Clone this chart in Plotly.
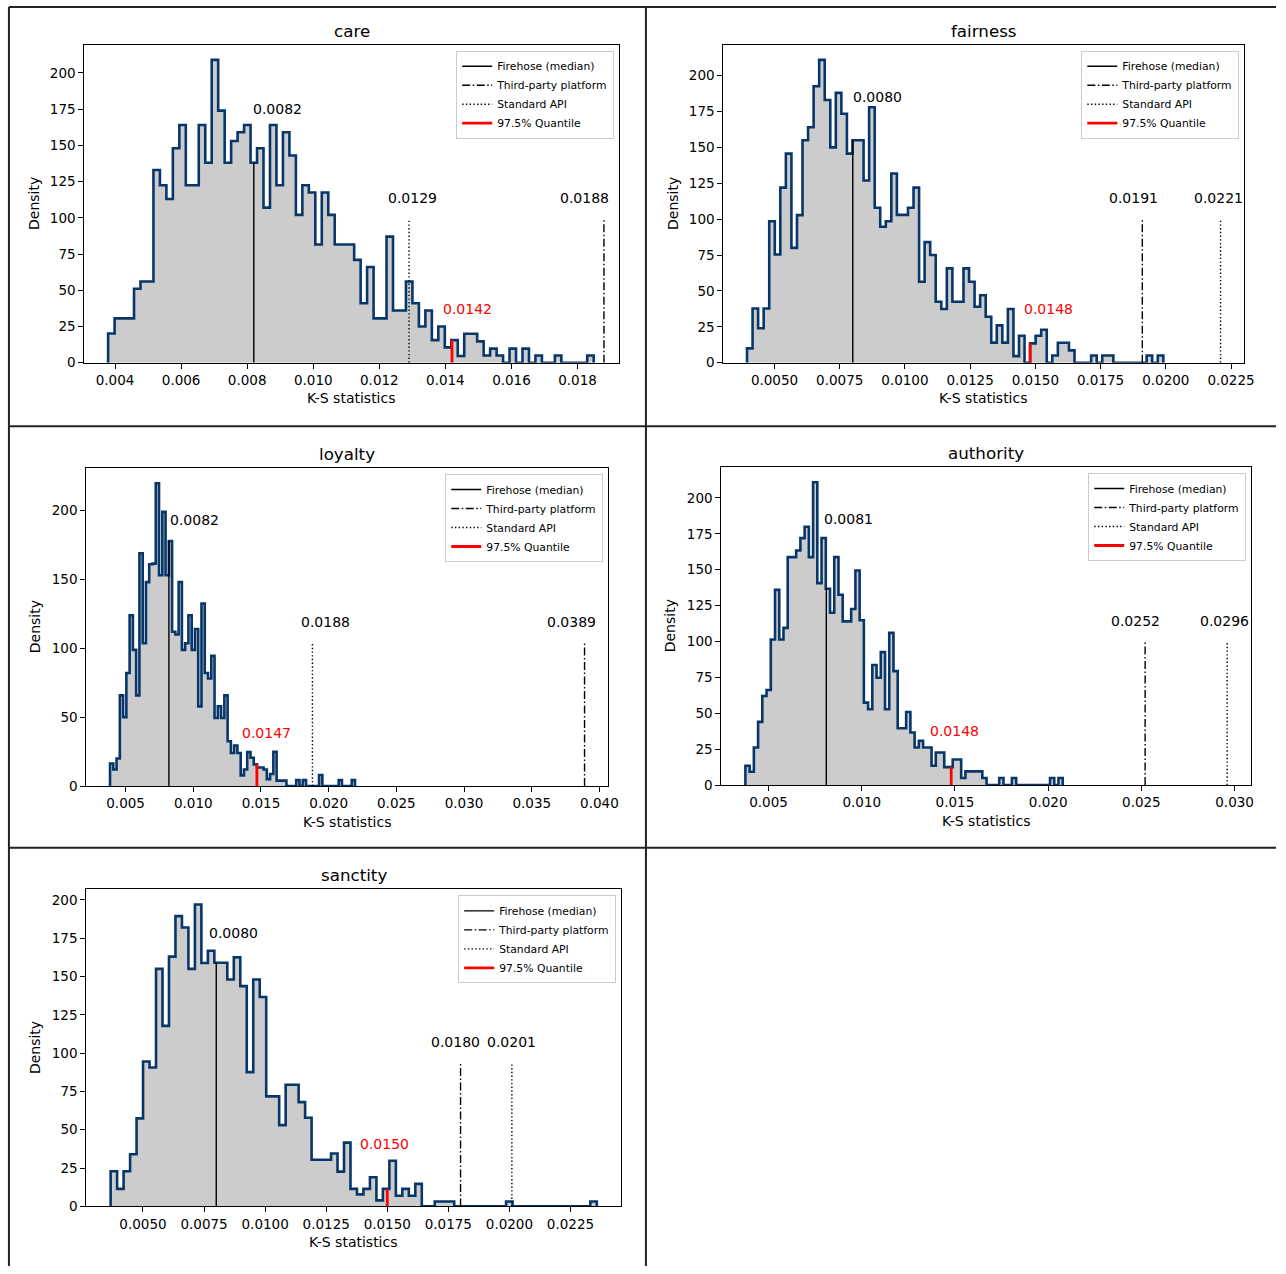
import numpy as np
import plotly.graph_objects as go

W, H = 1286, 1274

# ---------------- data ----------------
panel_names = ["care", "fairness", "loyalty", "authority", "sanctity"]

care_heights = [20.2, 30.6, 30.6, 30.6, 51, 56, 56, 133, 122.5, 113,
                148, 164, 122.5, 122.5, 164, 138, 209, 174, 138, 153,
                159, 164, 138, 148, 107, 164, 122.5, 159, 143, 102,
                122.5, 117.5, 81.6, 117.5, 102, 81.6, 81.6, 81.6, 71, 41,
                66, 30.6, 30.6, 87, 36, 36, 56, 41, 25, 36,
                15.6, 25, 10.6, 15.6, 4.6, 20, 20, 14.7, 5, 9.7,
                5, 0, 9.7, 0, 9.7, 0, 5, 0, 0, 5,
                0, 0, 0, 0, 5]
fairness_heights = [10, 37.8, 24, 37.8, 98.6, 75.4, 122, 145.7, 80, 102.8,
                    155, 164, 192.6, 211, 183, 150, 188, 173.5, 145.7, 155,
                    155, 127, 178, 108, 94.7, 98.6, 131.8, 103, 103, 108,
                    122, 56.4, 84, 75, 42.5, 37.4, 65.7, 42.5, 42.5, 65.7,
                    56.4, 39, 47, 32, 14, 26, 14, 37.4, 4.6, 18.8,
                    0, 13.5, 18.8, 23, 0, 5, 13.9, 13.9, 8.6, 0,
                    0, 0, 5, 0, 5, 5, 0, 0, 0, 0,
                    0, 0, 5, 0, 5]
loyalty_heights = [16.4, 12, 20, 65.8, 50, 82, 124, 98.8, 65.8, 169,
                   103.6, 148, 161, 161.4, 219.8, 153, 199, 153, 177.8, 112,
                   110, 148, 98.8, 103.6, 124, 98.8, 114, 57.8, 132.5, 82,
                   78, 94.5, 49.4, 57.8, 49.4, 65.8, 32.5, 24, 29.4, 24,
                   7.7, 12, 24.6, 20.5, 15.7, 13.5, 13.5, 12, 5, 8.7,
                   24.8, 3.9, 3.9, 3.9, 0, 0, 0, 4.3, 0, 4.3,
                   0, 0, 0, 0, 8, 0, 0, 0, 0, 0,
                   4.3, 0, 0, 0, 4.3]
authority_heights = [13.4, 9.3, 26.2, 44, 62, 66.2, 101.4, 136, 101.4, 109.5,
                     158.8, 158.8, 163.4, 172, 180, 158.8, 211, 140.7, 172, 136.8,
                     120, 158.8, 132.6, 114, 114, 122.7, 149.5, 114.8, 57.4, 52.8,
                     83.6, 74.8, 92.6, 52.8, 106, 79.4, 39.6, 39.6, 50.9, 36.6,
                     26.2, 30.8, 26.2, 26.2, 13.4, 22.7, 22.7, 12.5, 12.5, 17.8,
                     17.8, 4.9, 9.5, 9.5, 9.5, 9.5, 4.9, 0, 0, 0,
                     4.9, 0, 0, 4.9, 0, 0, 0, 0, 0, 0,
                     0, 0, 4.9, 0, 4.9]
sanctity_heights = [22.9, 11.4, 22.9, 34, 57.4, 94.5, 90.6, 155, 117.8, 163,
                    189.4, 182, 155, 197, 158.8, 166.8, 159, 159, 148, 162.5,
                    143.7, 87.6, 148, 136.6, 71.8, 71.8, 53, 79.4, 79.4, 68,
                    57.8, 30.4, 30.4, 30.4, 34.5, 22.7, 41.6, 11.4, 7.8, 11.4,
                    19, 3.9, 11.4, 29.8, 6.9, 11.4, 6.9, 14.7, 0, 0,
                    3.2, 3.2, 3.2, 0, 0, 0, 0, 0, 0, 0,
                    0, 3.2, 0, 0, 0, 0, 0, 0, 0, 0,
                    0, 0, 0, 0, 3.2]

# histogram bin range (first edge, last edge) of each panel
care_bins = (0.00379, 0.01849)
fairness_bins = (0.003946, 0.019905)
loyalty_bins = (0.003851, 0.021946)
authority_bins = (0.00376, 0.02078)
sanctity_bins = (0.003676, 0.023578)

# statistics drawn as vertical lines
median_vals = [0.0082, 0.0080, 0.0082, 0.0081, 0.0080]
third_party_vals = [0.0188, 0.0191, 0.0389, 0.0252, 0.0180]
standard_api_vals = [0.0129, 0.0221, 0.0188, 0.0296, 0.0201]
quantile_vals = [0.0142, 0.0148, 0.0147, 0.0148, 0.0150]

heights_all = [care_heights, fairness_heights, loyalty_heights,
               authority_heights, sanctity_heights]
bins_all = [care_bins, fairness_bins, loyalty_bins, authority_bins, sanctity_bins]

# ---------------- layout (pixels) ----------------
panels = [
    dict(px=(85, 624), py=(45, 365), xr=(0.00307, 0.01926), dtick=0.002, fmt=".3f", ydt=25,
         med_lbl=(0.008107, 175), tp_lbl=0.01821, sa_lbl=0.0130, q_lbl=(0.01467, 37.2)),
    dict(px=(729, 1254), py=(45, 365), xr=(0.003038, 0.023008), dtick=0.0025, fmt=".4f", ydt=25,
         med_lbl=(0.00793, 185.4), tp_lbl=0.018775, sa_lbl=0.02201, q_lbl=(0.0155, 37.5)),
    dict(px=(87, 613), py=(471, 791), xr=(0.0021, 0.04065), dtick=0.005, fmt=".3f", ydt=50,
         med_lbl=(0.008168, 192.8), tp_lbl=0.03795, sa_lbl=0.01973, q_lbl=(0.015412, 38.3)),
    dict(px=(727, 1261), py=(470, 790), xr=(0.00247, 0.03089), dtick=0.005, fmt=".3f", ydt=25,
         med_lbl=(0.007856, 185.4), tp_lbl=0.024665, sa_lbl=0.029452, q_lbl=(0.014984, 37.5)),
    dict(px=(87, 626), py=(895, 1214), xr=(0.002681, 0.024573), dtick=0.0025, fmt=".4f", ydt=25,
         med_lbl=(0.007628, 178.6), tp_lbl=0.017782, sa_lbl=0.020097, q_lbl=(0.014898, 40.8)),
]

FONT = "DejaVu Sans"
NAVY = "#07366a"
fig = go.Figure()
layout = dict(width=W, height=H, margin=dict(l=0, r=0, t=0, b=0),
              paper_bgcolor="white", plot_bgcolor="white",
              font=dict(family=FONT, size=14, color="black"))
annotations = []
shapes = []


def height_at(v, hts, start, end):
    n = len(hts)
    w = (end - start) / n
    idx = int(np.floor((v - start) / w))
    idx = min(max(idx, 0), n - 1)
    return hts[idx]


for i, (name, hts, (b0, b1), p) in enumerate(zip(panel_names, heights_all, bins_all, panels)):
    sfx = "" if i == 0 else str(i + 1)
    xa, ya = "x" + sfx, "y" + sfx
    leg = "legend" + sfx
    n = len(hts)
    edges = np.linspace(b0, b1, n + 1)
    xs = [edges[0]] + list(edges[:-1]) + [edges[-1], edges[-1]]
    ys = [0] + list(hts) + [hts[-1], 0]
    ymax = 1.05 * max(hts)

    fig.add_trace(go.Scatter(x=xs, y=ys, mode="lines", line=dict(shape="hv", color=NAVY, width=2.6),
                             fill="tozeroy", fillcolor="#cccccc", showlegend=False,
                             hoverinfo="skip", xaxis=xa, yaxis=ya))
    m = median_vals[i]
    fig.add_trace(go.Scatter(x=[m, m], y=[0, height_at(m, hts, b0, b1)], mode="lines",
                             line=dict(color="black", width=1.4), name="Firehose (median)",
                             legend=leg, xaxis=xa, yaxis=ya))
    t = third_party_vals[i]
    fig.add_trace(go.Scatter(x=[t, t], y=[0, 0.45 * ymax], mode="lines",
                             line=dict(color="black", width=1.4, dash="8px,2.5px,1.5px,2.5px"),
                             name="Third-party platform", legend=leg, xaxis=xa, yaxis=ya))
    s = standard_api_vals[i]
    fig.add_trace(go.Scatter(x=[s, s], y=[0, 0.45 * ymax], mode="lines",
                             line=dict(color="black", width=1.4, dash="1.4px,2.3px"),
                             name="Standard API", legend=leg, xaxis=xa, yaxis=ya))
    q = quantile_vals[i]
    fig.add_trace(go.Scatter(x=[q, q], y=[0, height_at(q, hts, b0, b1)], mode="lines",
                             line=dict(color="red", width=2.8), name="97.5% Quantile",
                             legend=leg, xaxis=xa, yaxis=ya))

    x0, x1 = p["px"]
    y0, y1 = p["py"]
    axcommon = dict(showline=True, linecolor="black", linewidth=1.1, mirror=True,
                    ticks="outside", ticklen=5, tickwidth=1.1, tickcolor="black",
                    showgrid=False, zeroline=False,
                    tickfont=dict(family=FONT, size=13.5, color="black"))
    layout["xaxis" + sfx] = dict(domain=[x0 / W, x1 / W], range=list(p["xr"]), anchor=ya,
                                 dtick=p["dtick"], tick0=0, tickformat=p["fmt"], **axcommon)
    layout["yaxis" + sfx] = dict(domain=[1 - y1 / H, 1 - y0 / H], range=[0, ymax], anchor=xa,
                                 dtick=p["ydt"], tick0=0, **axcommon)
    layout[leg] = dict(x=(x1 - 5) / W, xanchor="right", y=1 - (y0 + 6) / H, yanchor="top",
                       bgcolor="white", bordercolor="#cccccc", borderwidth=1,
                       font=dict(family=FONT, size=10.8, color="black"), tracegroupgap=0)

    # title and axis labels
    annotations.append(dict(text=name, x=(x0 + x1) / 2 / W, y=1 - (y0 - 14) / H, xref="paper", yref="paper",
                            showarrow=False, xanchor="center", yanchor="middle",
                            font=dict(family=FONT, size=16.7)))
    annotations.append(dict(text="K-S statistics", x=(x0 + x1) / 2 / W, y=1 - (y1 + 36) / H,
                            xref="paper", yref="paper", showarrow=False, xanchor="center",
                            yanchor="middle", font=dict(family=FONT, size=14)))
    annotations.append(dict(text="Density", x=(x0 - 51.5) / W, y=1 - (y0 + y1) / 2 / H,
                            xref="paper", yref="paper", showarrow=False, textangle=-90,
                            xanchor="center", yanchor="middle", font=dict(family=FONT, size=14)))
    # value labels
    mx, my = p["med_lbl"]
    annotations.append(dict(text=f"{m:.4f}", x=mx, y=my, xref=xa, yref=ya, showarrow=False,
                            xanchor="left", yanchor="middle", font=dict(family=FONT, size=14)))
    annotations.append(dict(text=f"{t:.4f}", x=p["tp_lbl"], y=0.517 * ymax, xref=xa, yref=ya,
                            showarrow=False, xanchor="center", yanchor="middle",
                            font=dict(family=FONT, size=14)))
    annotations.append(dict(text=f"{s:.4f}", x=p["sa_lbl"], y=0.517 * ymax, xref=xa, yref=ya,
                            showarrow=False, xanchor="center", yanchor="middle",
                            font=dict(family=FONT, size=14)))
    qx, qy = p["q_lbl"]
    annotations.append(dict(text=f"{q:.4f}", x=qx, y=qy, xref=xa, yref=ya, showarrow=False,
                            xanchor="center", yanchor="middle",
                            font=dict(family=FONT, size=14, color="red")))

# cell borders
border = dict(color="#222222", width=2)
for yy in (7, 429, 853):
    shapes.append(dict(type="line", xref="paper", yref="paper", x0=9 / W, x1=1.0,
                       y0=1 - yy / H, y1=1 - yy / H, line=border))
for xx in (9, 651):
    shapes.append(dict(type="line", xref="paper", yref="paper", x0=xx / W, x1=xx / W,
                       y0=1 - 7 / H, y1=0, line=border))

layout["annotations"] = annotations
layout["shapes"] = shapes
fig.update_layout(**layout)
fig.write_html("out.html", config={"displayModeBar": False},
               post_script="document.body.style.margin='0px';document.body.style.overflow='hidden';")
